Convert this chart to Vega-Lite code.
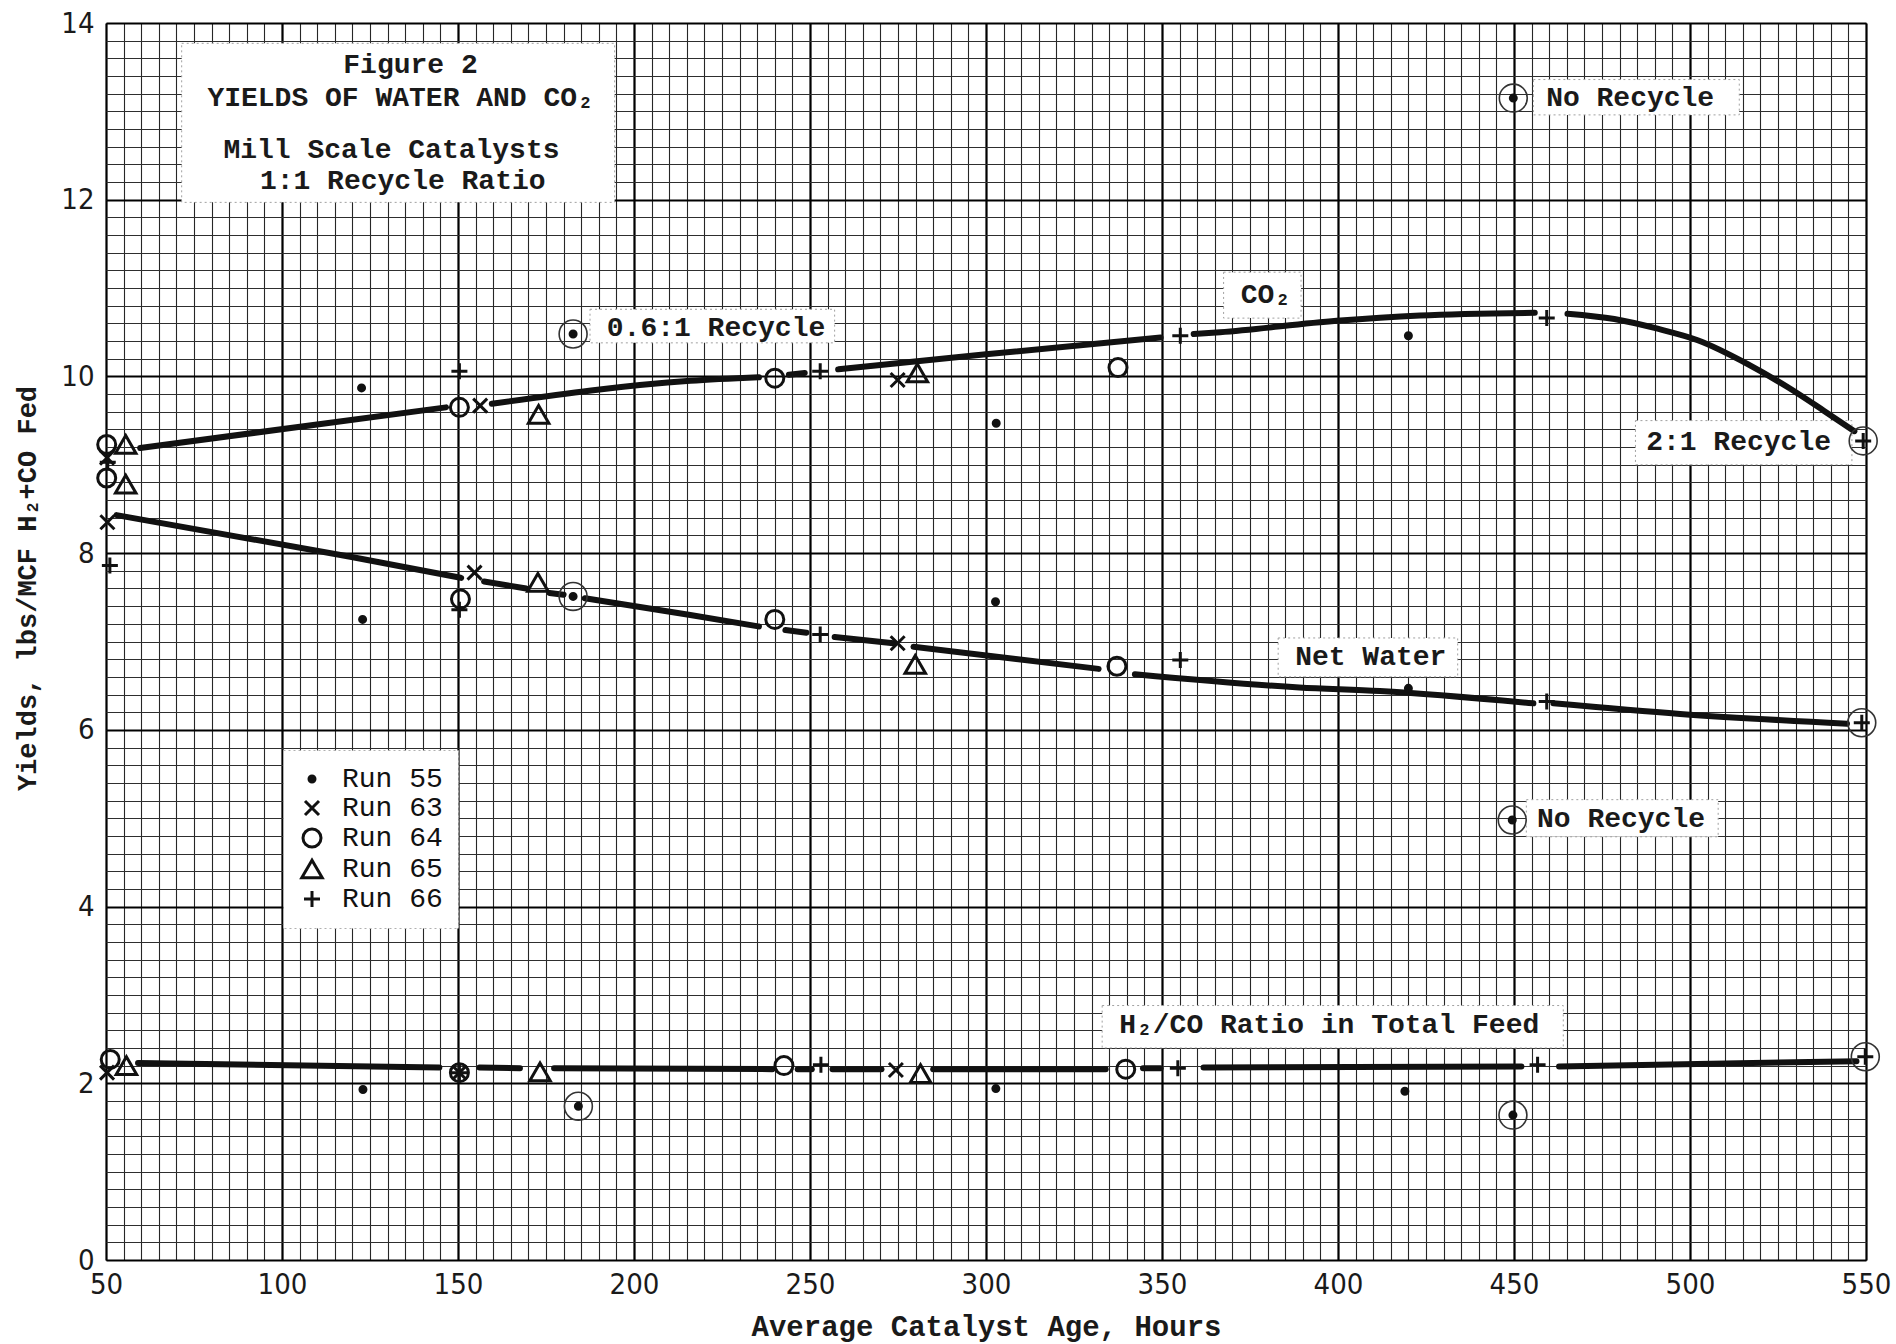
{
  "$schema": "https://vega.github.io/schema/vega-lite/v6.json",
  "width": 1760,
  "height": 1237,
  "autosize": {"type": "none"},
  "padding": {"left": 106, "top": 23, "right": 30, "bottom": 84},
  "background": "white",
  "config": {
    "view": {"stroke": null},
    "legend": {
      "orient": "none",
      "legendX": 177,
      "legendY": 727,
      "fillColor": "white",
      "strokeColor": "#b0b0b0",
      "strokeDash": [2, 3],
      "padding": 15,
      "labelFont": "Liberation Mono, DejaVu Sans Mono",
      "labelFontSize": 28,
      "labelColor": "#111",
      "labelOffset": 16,
      "labelLimit": 0,
      "rowPadding": 1,
      "symbolStrokeColor": "#111",
      "symbolStrokeWidth": 3,
      "symbolOpacity": 1
    }
  },
  "datasets": {
    "points": [
      {"run": "Run 64", "curve": "CO2", "hour": 50.2, "value": 9.23},
      {"run": "Run 65", "curve": "CO2", "hour": 55.6, "value": 9.23},
      {"run": "Run 63", "curve": "CO2", "hour": 50.3, "value": 9.08},
      {"run": "Run 66", "curve": "CO2", "hour": 50.5, "value": 9.03},
      {"run": "Run 64", "curve": "CO2", "hour": 50.2, "value": 8.85},
      {"run": "Run 65", "curve": "CO2", "hour": 55.6, "value": 8.78},
      {"run": "Run 55", "curve": "CO2", "hour": 122.6, "value": 9.87},
      {"run": "Run 66", "curve": "CO2", "hour": 150.4, "value": 10.06},
      {"run": "Run 64", "curve": "CO2", "hour": 150.4, "value": 9.65},
      {"run": "Run 63", "curve": "CO2", "hour": 156.3, "value": 9.67},
      {"run": "Run 65", "curve": "CO2", "hour": 172.9, "value": 9.57},
      {"run": "Run 55", "curve": "CO2", "hour": 182.7, "value": 10.48, "circled": true},
      {"run": "Run 64", "curve": "CO2", "hour": 240, "value": 9.98},
      {"run": "Run 66", "curve": "CO2", "hour": 252.9, "value": 10.06},
      {"run": "Run 63", "curve": "CO2", "hour": 274.9, "value": 9.96},
      {"run": "Run 65", "curve": "CO2", "hour": 280.5, "value": 10.04},
      {"run": "Run 55", "curve": "CO2", "hour": 302.9, "value": 9.47},
      {"run": "Run 64", "curve": "CO2", "hour": 337.5, "value": 10.1},
      {"run": "Run 66", "curve": "CO2", "hour": 355.2, "value": 10.46},
      {"run": "Run 55", "curve": "CO2", "hour": 420, "value": 10.46},
      {"run": "Run 55", "curve": "CO2", "hour": 449.8, "value": 13.15, "circled": true},
      {"run": "Run 66", "curve": "CO2", "hour": 459.3, "value": 10.66},
      {"run": "Run 66", "curve": "CO2", "hour": 549.2, "value": 9.27, "circled": true},
      {"run": "Run 63", "curve": "Water", "hour": 50.4, "value": 8.35},
      {"run": "Run 66", "curve": "Water", "hour": 51.1, "value": 7.86},
      {"run": "Run 55", "curve": "Water", "hour": 122.9, "value": 7.25},
      {"run": "Run 64", "curve": "Water", "hour": 150.7, "value": 7.48},
      {"run": "Run 66", "curve": "Water", "hour": 150.4, "value": 7.36},
      {"run": "Run 63", "curve": "Water", "hour": 154.7, "value": 7.78},
      {"run": "Run 65", "curve": "Water", "hour": 172.7, "value": 7.67},
      {"run": "Run 55", "curve": "Water", "hour": 182.7, "value": 7.51, "circled": true},
      {"run": "Run 64", "curve": "Water", "hour": 240, "value": 7.25},
      {"run": "Run 66", "curve": "Water", "hour": 252.9, "value": 7.08},
      {"run": "Run 63", "curve": "Water", "hour": 274.9, "value": 6.98},
      {"run": "Run 65", "curve": "Water", "hour": 279.9, "value": 6.74},
      {"run": "Run 55", "curve": "Water", "hour": 302.7, "value": 7.45},
      {"run": "Run 64", "curve": "Water", "hour": 337.2, "value": 6.72},
      {"run": "Run 66", "curve": "Water", "hour": 355.2, "value": 6.79},
      {"run": "Run 55", "curve": "Water", "hour": 420, "value": 6.47},
      {"run": "Run 55", "curve": "Water", "hour": 449.5, "value": 4.98, "circled": true},
      {"run": "Run 66", "curve": "Water", "hour": 459.3, "value": 6.32},
      {"run": "Run 66", "curve": "Water", "hour": 548.8, "value": 6.08, "circled": true},
      {"run": "Run 64", "curve": "H2/CO", "hour": 51.2, "value": 2.27},
      {"run": "Run 63", "curve": "H2/CO", "hour": 50.3, "value": 2.12},
      {"run": "Run 65", "curve": "H2/CO", "hour": 55.8, "value": 2.2},
      {"run": "Run 55", "curve": "H2/CO", "hour": 123, "value": 1.93},
      {"run": "Run 64", "curve": "H2/CO", "hour": 150.4, "value": 2.12},
      {"run": "Run 63", "curve": "H2/CO", "hour": 150.4, "value": 2.12},
      {"run": "Run 66", "curve": "H2/CO", "hour": 150.4, "value": 2.12},
      {"run": "Run 65", "curve": "H2/CO", "hour": 173.3, "value": 2.13},
      {"run": "Run 55", "curve": "H2/CO", "hour": 184.2, "value": 1.74, "circled": true},
      {"run": "Run 64", "curve": "H2/CO", "hour": 242.6, "value": 2.2},
      {"run": "Run 66", "curve": "H2/CO", "hour": 253.1, "value": 2.21},
      {"run": "Run 63", "curve": "H2/CO", "hour": 274.4, "value": 2.15},
      {"run": "Run 65", "curve": "H2/CO", "hour": 281.4, "value": 2.11},
      {"run": "Run 55", "curve": "H2/CO", "hour": 302.8, "value": 1.94},
      {"run": "Run 64", "curve": "H2/CO", "hour": 339.7, "value": 2.16},
      {"run": "Run 66", "curve": "H2/CO", "hour": 354.5, "value": 2.17},
      {"run": "Run 55", "curve": "H2/CO", "hour": 419, "value": 1.91},
      {"run": "Run 55", "curve": "H2/CO", "hour": 449.7, "value": 1.64, "circled": true},
      {"run": "Run 66", "curve": "H2/CO", "hour": 456.7, "value": 2.21},
      {"run": "Run 66", "curve": "H2/CO", "hour": 549.8, "value": 2.3, "circled": true}
    ],
    "curves": [
      {"seg": "c1", "hour": 59.7, "value": 9.19},
      {"seg": "c1", "hour": 146.6, "value": 9.65},
      {"seg": "c2", "hour": 159.6, "value": 9.69},
      {"seg": "c2", "hour": 216, "value": 9.95},
      {"seg": "c2", "hour": 235.5, "value": 9.99},
      {"seg": "c3", "hour": 244, "value": 10.02},
      {"seg": "c3", "hour": 248.5, "value": 10.04},
      {"seg": "c4", "hour": 258, "value": 10.08},
      {"seg": "c4", "hour": 300, "value": 10.25},
      {"seg": "c4", "hour": 349.6, "value": 10.44},
      {"seg": "c5", "hour": 359, "value": 10.48},
      {"seg": "c5", "hour": 366.5, "value": 10.5},
      {"seg": "c5", "hour": 399.6, "value": 10.63},
      {"seg": "c5", "hour": 423.3, "value": 10.69},
      {"seg": "c5", "hour": 455.9, "value": 10.72},
      {"seg": "c6", "hour": 465.2, "value": 10.71},
      {"seg": "c6", "hour": 478.5, "value": 10.65},
      {"seg": "c6", "hour": 490.8, "value": 10.54},
      {"seg": "c6", "hour": 502.2, "value": 10.41},
      {"seg": "c6", "hour": 516.4, "value": 10.14},
      {"seg": "c6", "hour": 527.7, "value": 9.88},
      {"seg": "c6", "hour": 538.1, "value": 9.61},
      {"seg": "c6", "hour": 546.7, "value": 9.38},
      {"seg": "w1", "hour": 53, "value": 8.43},
      {"seg": "w1", "hour": 119.4, "value": 7.96},
      {"seg": "w1", "hour": 150.9, "value": 7.72},
      {"seg": "w2", "hour": 157.4, "value": 7.68},
      {"seg": "w2", "hour": 169.4, "value": 7.6},
      {"seg": "w3", "hour": 176, "value": 7.55},
      {"seg": "w3", "hour": 180, "value": 7.53},
      {"seg": "w4", "hour": 186, "value": 7.49},
      {"seg": "w4", "hour": 216, "value": 7.3},
      {"seg": "w4", "hour": 235.5, "value": 7.17},
      {"seg": "w5", "hour": 243, "value": 7.13},
      {"seg": "w5", "hour": 249, "value": 7.1},
      {"seg": "w6", "hour": 257, "value": 7.05},
      {"seg": "w6", "hour": 273.7, "value": 6.98},
      {"seg": "w7", "hour": 279.4, "value": 6.94},
      {"seg": "w7", "hour": 332, "value": 6.69},
      {"seg": "w8", "hour": 342.3, "value": 6.63},
      {"seg": "w8", "hour": 389, "value": 6.48},
      {"seg": "w8", "hour": 411.9, "value": 6.44},
      {"seg": "w8", "hour": 455.5, "value": 6.3},
      {"seg": "w9", "hour": 461.2, "value": 6.3},
      {"seg": "w9", "hour": 497.2, "value": 6.18},
      {"seg": "w9", "hour": 544.6, "value": 6.07},
      {"seg": "h1", "hour": 59.1, "value": 2.23},
      {"seg": "h1", "hour": 144.7, "value": 2.18},
      {"seg": "h2", "hour": 156.1, "value": 2.18},
      {"seg": "h2", "hour": 167.6, "value": 2.17},
      {"seg": "h3", "hour": 177.3, "value": 2.17},
      {"seg": "h3", "hour": 239.3, "value": 2.16},
      {"seg": "h4", "hour": 246.5, "value": 2.16},
      {"seg": "h4", "hour": 250.5, "value": 2.16},
      {"seg": "h5", "hour": 256.4, "value": 2.16},
      {"seg": "h5", "hour": 270.3, "value": 2.16},
      {"seg": "h6", "hour": 285, "value": 2.16},
      {"seg": "h6", "hour": 334, "value": 2.16},
      {"seg": "h7", "hour": 344.6, "value": 2.17},
      {"seg": "h7", "hour": 349.6, "value": 2.17},
      {"seg": "h8", "hour": 361.8, "value": 2.18},
      {"seg": "h8", "hour": 452.1, "value": 2.19},
      {"seg": "h9", "hour": 462.8, "value": 2.19},
      {"seg": "h9", "hour": 547.3, "value": 2.25}
    ],
    "boxes": [
      {"x": 71.5, "x2": 194.5, "y": 11.97, "y2": 13.77},
      {"x": 187.5, "x2": 257, "y": 10.38, "y2": 10.76},
      {"x": 367.5, "x2": 389.5, "y": 10.66, "y2": 11.18},
      {"x": 455.5, "x2": 514, "y": 12.96, "y2": 13.36},
      {"x": 484.5, "x2": 546, "y": 9.0, "y2": 9.5},
      {"x": 383, "x2": 434, "y": 6.6, "y2": 7.04},
      {"x": 453.5, "x2": 508, "y": 4.79, "y2": 5.21},
      {"x": 333, "x2": 464, "y": 2.4, "y2": 2.88}
    ],
    "labels": [
      {"text": "Figure 2", "x": 136.5, "y": 13.53},
      {"text": "YIELDS OF WATER AND CO₂", "x": 133.7, "y": 13.15},
      {"text": "Mill Scale Catalysts", "x": 131.1, "y": 12.56},
      {"text": "1:1 Recycle Ratio", "x": 134.3, "y": 12.21},
      {"text": "0.6:1 Recycle", "x": 223.3, "y": 10.55},
      {"text": "CO₂", "x": 379.5, "y": 10.92},
      {"text": "No Recycle", "x": 483, "y": 13.15},
      {"text": "2:1 Recycle", "x": 513.8, "y": 9.26},
      {"text": "Net Water", "x": 409.3, "y": 6.82},
      {"text": "No Recycle", "x": 480.4, "y": 4.99},
      {"text": "H₂/CO Ratio in Total Feed", "x": 397.5, "y": 2.66}
    ]
  },
  "layer": [
    {
      "data": {"name": "boxes"},
      "mark": {"type": "rect", "fill": "white", "stroke": "#a0a0a0", "strokeWidth": 1, "strokeDash": [2, 3]},
      "encoding": {
        "x": {
          "field": "x", "type": "quantitative",
          "scale": {"domain": [50, 550], "nice": false, "zero": false},
          "axis": {"orient": "bottom", "tickCount": 100, "grid": true, "gridColor": "#262626", "gridWidth": 1.1, "gridOpacity": 1, "labels": false, "ticks": false, "domain": false, "title": null}
        },
        "x2": {"field": "x2"},
        "y": {
          "field": "y", "type": "quantitative",
          "scale": {"domain": [0, 14], "nice": false, "zero": false},
          "axis": {"orient": "left", "tickCount": 70, "grid": true, "gridColor": "#2e2e2e", "gridWidth": 1.1, "gridOpacity": 1, "labels": false, "ticks": false, "domain": false, "title": null}
        },
        "y2": {"field": "y2"}
      }
    },
    {
      "data": {"name": "curves"},
      "mark": {"type": "line", "stroke": "#111", "strokeWidth": 6, "interpolate": "monotone", "strokeCap": "round"},
      "encoding": {
        "x": {
          "field": "hour", "type": "quantitative",
          "axis": {
            "orient": "bottom", "tickCount": 10, "grid": true, "gridColor": "#000", "gridWidth": 2.2, "gridOpacity": 1,
            "domain": false, "ticks": false, "tickSize": 0, "labelPadding": 10,
            "labelFont": "Liberation Sans Narrow, Arial Narrow, DejaVu Sans Condensed, Liberation Sans",
            "labelFontSize": 29, "labelColor": "#1a1a1a", "labelFlush": false, "labelOverlap": false, "labelBound": false,
            "title": "Average Catalyst Age, Hours",
            "titleFont": "Liberation Mono, DejaVu Sans Mono", "titleFontSize": 29, "titleFontWeight": "bold", "titleColor": "#1a1a1a",
            "titleY": 66, "titleBaseline": "middle"
          }
        },
        "y": {
          "field": "value", "type": "quantitative",
          "axis": {
            "orient": "left", "tickCount": 7, "grid": true, "gridColor": "#000", "gridWidth": 2.2, "gridOpacity": 1,
            "domain": false, "ticks": false, "tickSize": 0, "labelPadding": 12,
            "labelFont": "Liberation Sans Narrow, Arial Narrow, DejaVu Sans Condensed, Liberation Sans",
            "labelFontSize": 29, "labelColor": "#1a1a1a", "labelOverlap": false, "labelFlush": false,
            "title": "Yields, lbs/MCF H₂+CO Fed",
            "titleFont": "Liberation Mono, DejaVu Sans Mono", "titleFontSize": 27, "titleFontWeight": "bold", "titleColor": "#1a1a1a",
            "titleAngle": -90, "titleX": -79, "titleY": 565, "titleAlign": "center", "titleBaseline": "middle"
          }
        },
        "detail": {"field": "seg", "type": "nominal"}
      }
    },
    {
      "data": {"name": "points"},
      "mark": {"type": "point", "filled": false, "stroke": "#111", "strokeWidth": 3, "opacity": 1},
      "encoding": {
        "x": {"field": "hour", "type": "quantitative", "axis": null},
        "y": {"field": "value", "type": "quantitative", "axis": null},
        "shape": {
          "field": "run", "type": "nominal",
          "scale": {"domain": ["Run 55", "Run 63", "Run 64", "Run 65", "Run 66"], "range": ["circle", "M-1,-1L1,1M-1,1L1,-1", "circle", "triangle-up", "M-1,0L1,0M0,-1L0,1"]},
          "legend": {
            "title": null,
            "encode": {"symbols": {"update": {"stroke": {"value": "#111"}, "strokeWidth": {"value": 3}, "opacity": {"value": 1}}}}
          }
        },
        "fill": {
          "field": "run", "type": "nominal",
          "scale": {"domain": ["Run 55", "Run 63", "Run 64", "Run 65", "Run 66"], "range": ["#111", "transparent", "transparent", "transparent", "transparent"]},
          "legend": {
            "title": null,
            "encode": {"symbols": {"update": {"stroke": {"value": "#111"}, "strokeWidth": {"value": 3}, "opacity": {"value": 1}}}}
          }
        },
        "size": {
          "field": "run", "type": "nominal",
          "scale": {"type": "ordinal", "domain": ["Run 55", "Run 63", "Run 64", "Run 65", "Run 66"], "range": [36, 196, 324, 420, 256]},
          "legend": {
            "title": null,
            "encode": {"symbols": {"update": {"stroke": {"value": "#111"}, "strokeWidth": {"value": 3}, "opacity": {"value": 1}}}}
          }
        }
      }
    },
    {
      "data": {"name": "points"},
      "transform": [{"filter": "datum.circled === true"}],
      "mark": {"type": "point", "shape": "circle", "filled": false, "stroke": "#333", "strokeWidth": 1.6, "size": 780, "opacity": 1},
      "encoding": {
        "x": {"field": "hour", "type": "quantitative", "axis": null},
        "y": {"field": "value", "type": "quantitative", "axis": null}
      }
    },
    {
      "data": {"name": "labels"},
      "mark": {"type": "text", "font": "Liberation Mono, DejaVu Sans Mono", "fontSize": 28, "fontWeight": "bold", "align": "center", "baseline": "middle", "color": "#1a1a1a"},
      "encoding": {
        "x": {"field": "x", "type": "quantitative", "axis": null},
        "y": {"field": "y", "type": "quantitative", "axis": null},
        "text": {"field": "text", "type": "nominal"}
      }
    }
  ],
  "resolve": {"axis": {"x": "independent", "y": "independent"}}
}
